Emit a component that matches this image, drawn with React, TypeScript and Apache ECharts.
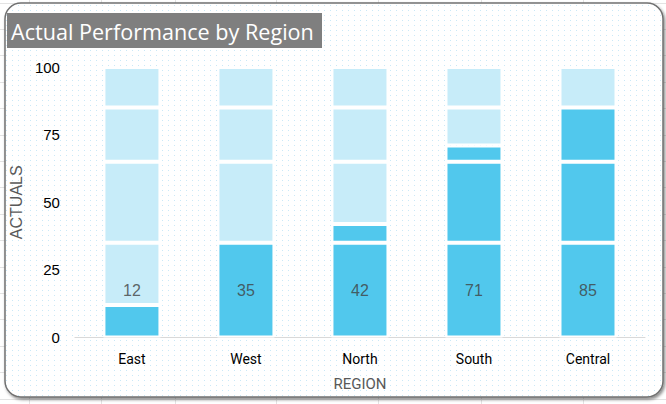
import React, { useEffect, useRef } from "react";
import * as echarts from "echarts";

const TITLE = "Actual Performance by Region";
const CATEGORIES = ["East", "West", "North", "South", "Central"];
const ACTUALS = [12, 35, 42, 71, 85];
const BANDS = [35, 65, 85, 100];
const Y_MIN = 0;
const Y_MAX = 100;
const Y_INTERVAL = 25;
const X_NAME = "REGION";
const Y_NAME = "ACTUALS";

const DARK = "#51C8ED";
const LIGHT = "#C7ECF9";

function segmentsFor(actual: number) {
  const pts = Array.from(new Set([...BANDS, actual])).sort((a, b) => a - b);
  let prev = 0;
  return pts.map((p) => {
    const s = { len: p - prev, dark: p <= actual };
    prev = p;
    return s;
  });
}

function dotPattern(): string {
  const c = document.createElement("canvas");
  c.width = 6;
  c.height = 5;
  const ctx = c.getContext("2d")!;
  ctx.fillStyle = "#ffffff";
  ctx.fillRect(0, 0, 6, 5);
  ctx.fillStyle = "#c9e8f7";
  ctx.fillRect(0, 0, 1, 1);
  return c.toDataURL();
}

export default function App() {
  const ref = useRef<HTMLDivElement>(null);
  useEffect(() => {
    document.body.style.margin = "0";
    const chart = echarts.init(ref.current!, null, { renderer: "svg" });
    const segs = ACTUALS.map(segmentsFor);
    const maxSeg = Math.max(...segs.map((s) => s.length));
    const barSeries: any[] = [];
    for (let k = 0; k < maxSeg; k++) {
      barSeries.push({
        type: "bar",
        stack: "total",
        barWidth: 57,
        z: 3,
        itemStyle: { borderColor: "#ffffff", borderWidth: 2 },
        emphasis: { disabled: true },
        data: segs.map((s) =>
          s[k]
            ? { value: s[k].len, itemStyle: { color: s[k].dark ? DARK : LIGHT } }
            : "-"
        ),
      });
    }
    const gridColor = "#e3e3e3";
    const vLines = [29, 101, 175, 276, 378, 481, 583].map((x) => ({
      type: "line",
      z: -10,
      shape: { x1: x + 0.5, y1: 0, x2: x + 0.5, y2: 404 },
      style: { stroke: gridColor, lineWidth: 1 },
    }));
    const hLines = Array.from({ length: 16 }, (_, i) => 2.5 + i * 26.4).map((y) => ({
      type: "line",
      z: -10,
      shape: { x1: 0, y1: Math.round(y) + 0.5, x2: 666, y2: Math.round(y) + 0.5 },
      style: { stroke: gridColor, lineWidth: 1 },
    }));
    chart.setOption({
      animation: false,
      backgroundColor: "#ffffff",
      graphic: [
        ...vLines,
        ...hLines,
        {
          type: "rect",
          z: -5,
          shape: { x: 5, y: 3, width: 658, height: 394, r: 16 },
          style: {
            fill: { image: dotPattern(), repeat: "repeat" } as any,
            stroke: "#707070",
            lineWidth: 1.5,
            shadowBlur: 3,
            shadowOffsetX: 1.5,
            shadowOffsetY: 2,
            shadowColor: "rgba(0,0,0,0.45)",
          },
        },
        {
          type: "rect",
          z: 10,
          shape: { x: 7, y: 13, width: 315, height: 35 },
          style: { fill: "#7f7f7f" },
        },
        {
          type: "text",
          z: 11,
          x: 11,
          y: 31,
          style: {
            text: TITLE,
            fill: "#ffffff",
            fontSize: 21.6,
            fontFamily: "Open Sans",
            verticalAlign: "middle",
          },
        },
      ],
      grid: { left: 70, right: 21, top: 67, bottom: 66.5, containLabel: false },
      xAxis: {
        type: "category",
        data: CATEGORIES,
        name: X_NAME,
        nameLocation: "middle",
        nameGap: 39,
        nameTextStyle: { color: "#595959", fontSize: 15, fontFamily: "Roboto" },
        axisLine: { show: true, lineStyle: { color: "#d9d9d9", width: 1 } },
        axisTick: { show: false },
        axisLabel: { color: "#000000", fontSize: 14, fontFamily: "Roboto", margin: 14 },
      },
      yAxis: {
        type: "value",
        min: Y_MIN,
        max: Y_MAX,
        interval: Y_INTERVAL,
        name: Y_NAME,
        nameLocation: "middle",
        nameGap: 44,
        nameTextStyle: { color: "#595959", fontSize: 16, fontFamily: "Liberation Sans" },
        axisLine: { show: false },
        axisTick: { show: false },
        splitLine: { show: false },
        axisLabel: { color: "#000000", fontSize: 15, fontFamily: "Liberation Sans", margin: 15 },
      },
      series: [
        ...barSeries,
        {
          type: "scatter",
          z: 5,
          symbolSize: 1,
          itemStyle: { color: "rgba(0,0,0,0)" },
          silent: true,
          label: {
            show: true,
            position: "inside",
            formatter: (p: any) => String(p.value[2]),
            color: "#404040",
            fontSize: 16,
            fontFamily: "Liberation Sans",
          },
          data: ACTUALS.map((v, i) => [i, BANDS[0] / 2, v]),
        },
      ],
    });
    return () => chart.dispose();
  }, []);
  return (
    <div
      ref={ref}
      style={{ position: "fixed", left: 0, top: 0, width: 666, height: 404 }}
    />
  );
}
